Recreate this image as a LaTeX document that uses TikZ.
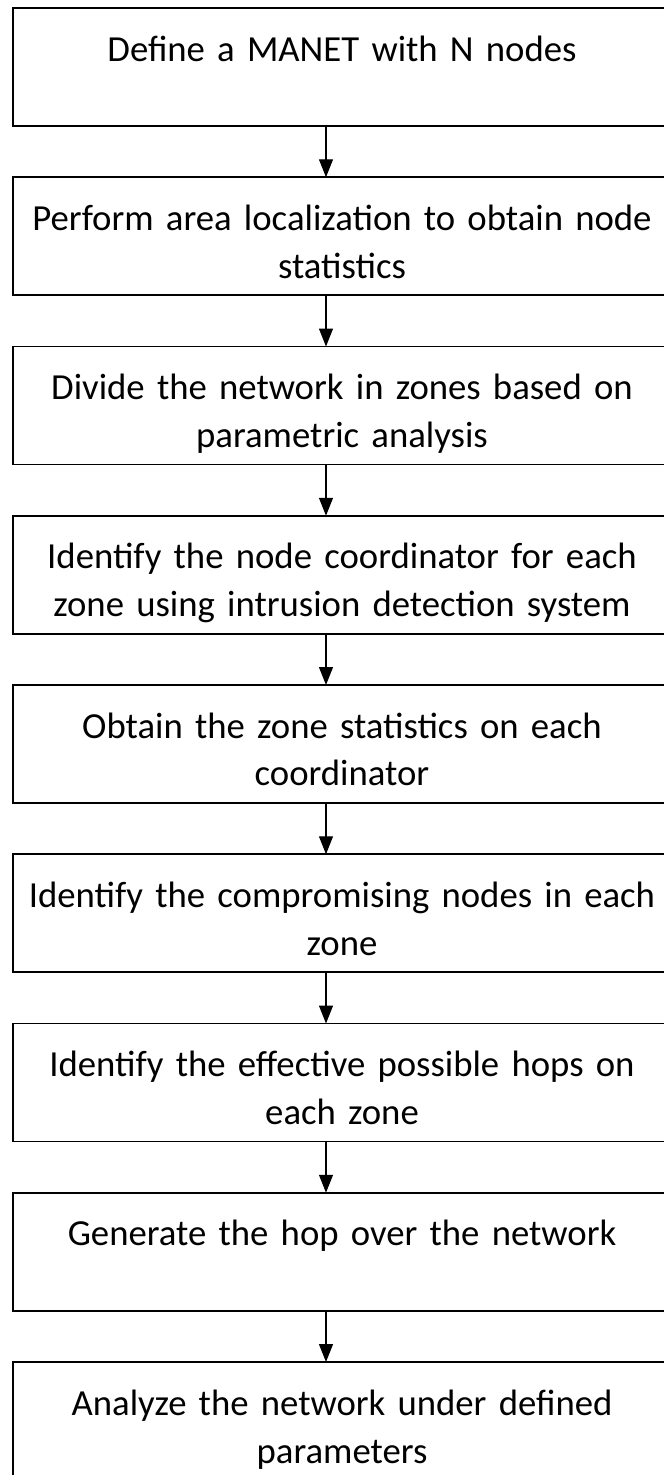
\documentclass[tikz,border=0pt]{standalone}
\usepackage{fontspec}
\setmainfont{Carlito}
\usetikzlibrary{positioning,arrows.meta}
\tikzset{
  block/.style={
    draw,
    rectangle,
    line width=1.1pt,
    outer sep=0pt,
    minimum height=2.36cm,
    minimum width=13.16cm,
    text width=13cm,
    inner xsep=0pt,
    inner ysep=0pt,
    align=center,
    font=\fontsize{20.9pt}{27.3pt}\selectfont,
    execute at begin node={\rule{0pt}{0.92cm}},
    execute at end node={\rule[-0.2cm]{0pt}{0.2cm}}
  },
  line/.style={-{Triangle[width=2.8mm,length=3.6mm]},line width=0.75pt}
}
\begin{document}
\begin{tikzpicture}

	\useasboundingbox (0,0) rectangle (13.28,-29.5);

	\node[block] at (6.84,-1.34) (define) {Define a MANET with N nodes\\};

	\node[block, below = 1.025cm of define] (localize) {Perform area localization to obtain node\\statistics};
	\node[block, below = 1.025cm of localize] (divide) {Divide the network in zones based on\\parametric analysis};
	\node[block, below = 1.025cm of divide] (coordinator) {Identify the node coordinator for each\\zone using intrusion detection system};
	\node[block, below = 1.025cm of coordinator] (statistics) {Obtain the zone statistics on each\\coordinator};
	\node[block, below = 1.025cm of statistics] (compromise) {Identify the compromising nodes in each\\zone};
	\node[block, below = 1.025cm of compromise] (hops) {Identify the effective possible hops on\\each zone};
	\node[block, below = 1.025cm of hops] (generate) {Generate the hop over the network\\};
	\node[block, below = 1.025cm of generate] (analyze) {Analyze the network under defined\\parameters};

	% arrows, a bit left of the middle
	\draw[line] ([xshift=-0.32cm]define.south) -- ([xshift=-0.32cm]localize.north);
	\draw[line] ([xshift=-0.32cm]localize.south) -- ([xshift=-0.32cm]divide.north);
	\draw[line] ([xshift=-0.32cm]divide.south) -- ([xshift=-0.32cm]coordinator.north);
	\draw[line] ([xshift=-0.32cm]coordinator.south) -- ([xshift=-0.32cm]statistics.north);
	\draw[line] ([xshift=-0.32cm]statistics.south) -- ([xshift=-0.32cm]compromise.north);
	\draw[line] ([xshift=-0.32cm]compromise.south) -- ([xshift=-0.32cm]hops.north);
	\draw[line] ([xshift=-0.32cm]hops.south) -- ([xshift=-0.32cm]generate.north);
	\draw[line] ([xshift=-0.32cm]generate.south) -- ([xshift=-0.32cm]analyze.north);

\end{tikzpicture}
\end{document}
